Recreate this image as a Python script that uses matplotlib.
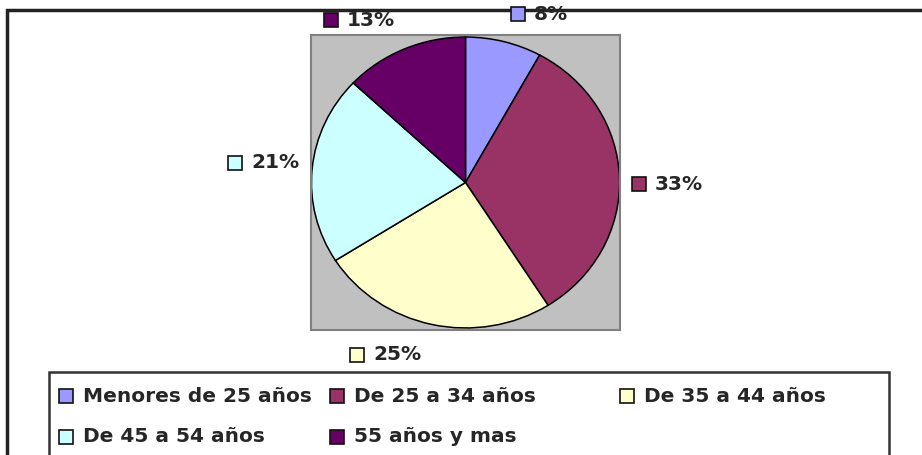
import matplotlib
matplotlib.use("Agg")

import matplotlib.pyplot as plt
from matplotlib.patches import Rectangle

CATEGORIES = ["Menores de 25 años", "De 25 a 34 años", "De 35 a 44 años",
              "De 45 a 54 años", "55 años y mas"]
SHARES = [8, 33, 25, 21, 13]
COLORS = ["#9999FF", "#993366", "#FFFFCC", "#CCFFFF", "#660066"]

W, H = 922, 455

# layout in pixels: (left edge of key, vertical centre), same order as CATEGORIES
LABEL_POS = [(511, 14), (632, 184), (350, 355), (228, 163), (324, 20)]
LEGEND_POS = [(59, 396), (330, 396), (620, 396), (59, 437), (330, 437)]


def fx(x):
    return x / W


def fy(y):
    return 1 - y / H


def key(fig, x, y, color, size=14, lw=1.2):
    fig.patches.append(Rectangle((fx(x), fy(y + size / 2)), size / W, size / H,
                                 transform=fig.transFigure, facecolor=color,
                                 edgecolor="#111111", linewidth=lw, zorder=5))


fig = plt.figure(figsize=(W / 100, H / 100), dpi=100)
fig.patch.set_facecolor("white")

# outer chart frame (right and bottom run off the image)
fig.patches.append(Rectangle((fx(7), -0.2), 1.5, fy(10) + 0.2, transform=fig.transFigure,
                             facecolor="none", edgecolor="#222222", linewidth=2.5, zorder=1))

# pie on grey plot area
ax = fig.add_axes([fx(311), fy(330), fx(620) - fx(311), fy(35) - fy(330)])
ax.pie(SHARES, colors=COLORS, startangle=90, counterclock=False,
       wedgeprops={"edgecolor": "black", "linewidth": 1.1})
ax.set_aspect("auto")
ax.set_xlim(-1.003, 1.003)
ax.set_ylim(-1.014, 1.014)
ax.set_frame_on(True)
ax.set_facecolor("#C0C0C0")
for s in ax.spines.values():
    s.set_color("#808080")
    s.set_linewidth(1.5)
ax.set_xticks([])
ax.set_yticks([])

# data labels
for (x, y), share, color in zip(LABEL_POS, SHARES, COLORS):
    key(fig, x, y, color)
    fig.text(fx(x + 23), fy(y), f"{share}%", ha="left", va="center",
             fontsize=14.5, fontweight="bold", color="#262626", zorder=6)

# legend box
fig.patches.append(Rectangle((fx(49), -0.2), fx(889) - fx(49), fy(372) + 0.2,
                             transform=fig.transFigure, facecolor="white",
                             edgecolor="#333333", linewidth=1.8, zorder=2))
for (x, y), name, color in zip(LEGEND_POS, CATEGORIES, COLORS):
    key(fig, x, y, color)
    fig.text(fx(x + 24), fy(y), name, ha="left", va="center",
             fontsize=14.5, fontweight="bold", color="#262626", zorder=6)

fig.savefig("out.png", dpi=100)
